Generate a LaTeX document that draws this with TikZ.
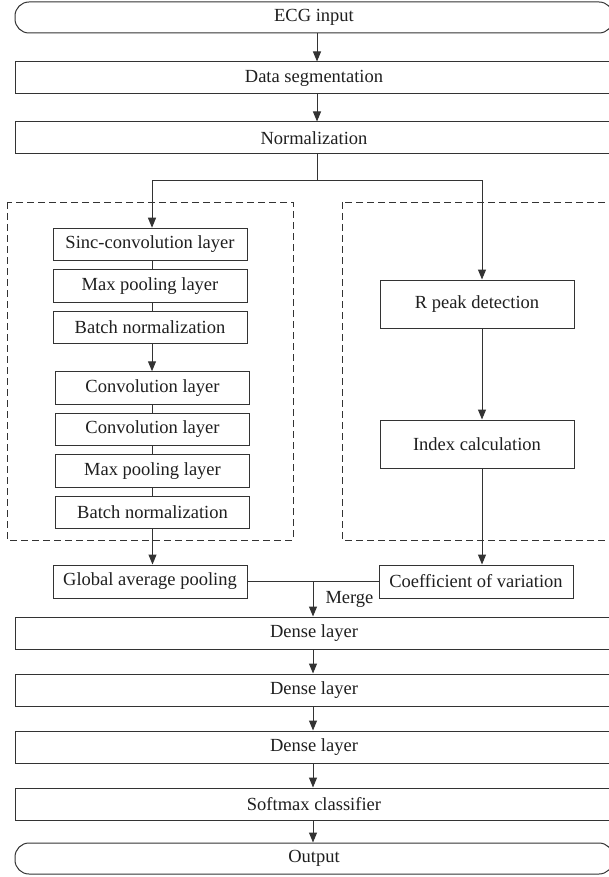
\documentclass[tikz,border=0pt]{standalone}
\usepackage{fontspec}
\setmainfont{Liberation Serif}
\usepackage{tikz}
\usetikzlibrary{positioning, arrows.meta}

\begin{document}
\begin{tikzpicture}[
			x=1pt, y=-1pt,
			block/.style={
					rectangle, draw=black!80, line width=1pt, fill=white, text=black!88,
					minimum width=598pt, minimum height=32pt, inner sep=0pt,
					font=\fontsize{18.5}{21}\selectfont
				},
			terminal/.style={block, rounded corners=14pt, minimum height=31pt},
			layer/.style={block, minimum width=194pt, minimum height=32.5pt},
			stage/.style={layer, minimum height=48pt},
			group/.style={draw=black!80, line width=0.9pt, dash pattern=on 7pt off 4pt},
			flow/.style={draw=black!80, line width=1pt, -{Triangle[length=10pt,width=8pt]}},
			link/.style={draw=black!80, line width=1pt},
			node distance=8pt
		]
		\useasboundingbox (0,0) rectangle (608,877);

		% Preprocessing chain
		\node[terminal] (ecg) at (314,17.5) {ECG input};
		\node[block] (seg) at (314,78) {Data segmentation};
		\node[block] (norm) at (314,138) {Normalization};

		% Dashed groups of the two branches
		\draw[group] (7,202) rectangle (293,540);
		\draw[group] (342,202) rectangle (614,540);

		% Left branch (network layers)
		\node[layer] (sinc) at (150,244.5) {Sinc-convolution layer};
		\node[layer, below=of sinc] (poolA) {Max pooling layer};
		\node[layer, below=of poolA] (bnA) {Batch normalization};
		\node[layer] (convA) at (152.5,388) {Convolution layer};
		\node[layer, below=of convA] (convB) {Convolution layer};
		\node[layer, below=of convB] (poolB) {Max pooling layer};
		\node[layer, below=of poolB] (bnB) {Batch normalization};
		\node[layer, minimum height=33pt] (gap) at (150,581.5) {Global average pooling};

		% Right branch (R peaks)
		\node[stage] (rpeak) at (477,304) {R peak detection};
		\node[stage] (index) at (477,444) {Index calculation};
		\node[layer, minimum height=33pt] (cov) at (476,581.5) {Coefficient of variation};

		% Classifier chain
		\node[block] (denseA) at (314,633) {Dense layer};
		\node[block] (denseB) at (314,690) {Dense layer};
		\node[block] (denseC) at (314,747) {Dense layer};
		\node[block] (soft) at (314,804) {Softmax classifier};
		\node[terminal] (out) at (314,858.5) {Output};

		% Connectors
		\draw[flow] ([xshift=3pt]ecg.south) -- ([xshift=3pt]seg.north);
		\draw[flow] ([xshift=3pt]seg.south) -- ([xshift=3pt]norm.north);
		\draw[link] ([xshift=3pt]norm.south) -- ++(0,26) coordinate (fork);
		\draw[flow] (fork) -| ([xshift=2pt]sinc.north);
		\draw[flow] (fork) -| ([xshift=5pt]rpeak.north);

		\draw[link] ([xshift=2pt]sinc.south) -- ([xshift=2pt]poolA.north);
		\draw[link] ([xshift=2pt]poolA.south) -- ([xshift=2pt]bnA.north);
		\draw[flow] ([xshift=2pt]bnA.south) -- ([xshift=2pt]bnA.south |- convA.north);
		\draw[link] (convA.south) -- (convB.north);
		\draw[link] (convB.south) -- (poolB.north);
		\draw[link] (poolB.south) -- (bnB.north);
		\draw[flow] (bnB.south) -- (bnB.south |- gap.north);

		\draw[flow] ([xshift=5pt]rpeak.south) -- ([xshift=5pt]index.north);
		\draw[flow] ([xshift=5pt]index.south) -- ([xshift=5pt]index.south |- cov.north);

		\draw[link] (gap.east) -- (cov.west);
		\draw[flow] ([xshift=-1pt]gap.east -| denseA.north) -- ([xshift=-1pt]denseA.north)
			node[midway, anchor=west, xshift=10pt, inner sep=2pt, text=black!88, font=\fontsize{18.5}{21}\selectfont] (mergelabel) {Merge};
		\draw[flow] ([xshift=-1pt]denseA.south) -- ([xshift=-1pt]denseB.north);
		\draw[flow] ([xshift=-1pt]denseB.south) -- ([xshift=-1pt]denseC.north);
		\draw[flow] ([xshift=-1pt]denseC.south) -- ([xshift=-1pt]soft.north);
		\draw[flow] ([xshift=-1pt]soft.south) -- ([xshift=-1pt]out.north);

	\end{tikzpicture}
\end{document}
